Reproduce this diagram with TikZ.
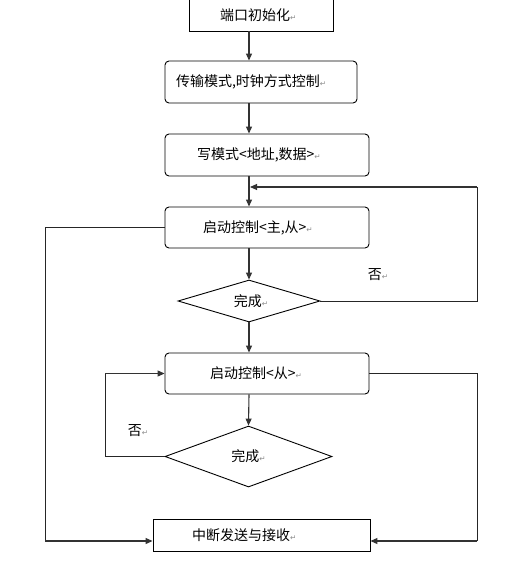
\documentclass[tikz,border=0pt]{standalone}
\usepackage{fontspec}
\newfontfamily\cjk{Noto Sans CJK SC}
\newfontfamily\symfont{DejaVu Sans}
\usetikzlibrary{arrows.meta,shapes.geometric}
\newcommand{\retmark}{{\symfont\fontsize{7.5pt}{7.5pt}\selectfont\textcolor{black!45}{↵}}}

\begin{document}
\begin{tikzpicture}[x=1pt, y=-1pt,
  every node/.style={font=\cjk\fontsize{14pt}{16pt}\selectfont},
  box/.style={draw, rectangle, line width=0.9pt, minimum height=#1, align=left},
  rbox/.style={box=#1, rounded corners=4pt},
  decision/.style={draw, diamond, line width=0.9pt, inner sep=0pt, aspect=3.4},
  flow/.style={-{Triangle[length=7pt,width=6pt]}, line width=1.1pt, draw=black!80},
  wire/.style={line width=1pt, draw=black!85}]
  \useasboundingbox (0,0) rectangle (530,562);

  % nodes
  \node[box=32pt, inner xsep=31pt, text width=82pt] (init) at (261,15) {端口初始化\retmark};
  \node[rbox=42pt, inner xsep=11pt, text width=170pt] (mode) at (261,82) {传输模式,时钟方式控制\retmark};
  \node[rbox=42pt, inner xsep=32pt, text width=140pt] (write) at (267,155) {写模式<地址,数据>\retmark};
  \node[rbox=41pt, inner xsep=38pt, text width=128pt] (start1) at (267,227.5) {启动控制<主,从>\retmark};
  \node[decision, minimum width=142pt, minimum height=42pt] (done1) at (249,301) {\hspace*{4pt}完成\retmark};
  \node[rbox=41pt, inner xsep=45pt, text width=114pt] (start2) at (267,373.5) {启动控制<从>\retmark};
  \node[decision, minimum width=167pt, minimum height=61pt] (done2) at (248.5,456.5) {完成\retmark};
  \node[box=32pt, inner xsep=39pt, text width=139pt] (irq) at (261.5,535) {中断发送与接收\retmark};

  \node (no1) at (378,275) {否\retmark};
  \node (no2) at (138,431) {否\retmark};

  % helper points
  \coordinate (col) at (249,0);
  \coordinate (join1) at (250,187);
  \coordinate (left) at (45,0);
  \coordinate (right) at (477,0);
  \coordinate (loop2) at (105,0);

  % arrows
  \draw[flow] (init.south -| col) -- (mode.north -| col);
  \draw[flow] (mode.south -| col) -- (write.north -| col);
  \draw[flow] (write.south -| col) -- (start1.north -| col);
  \draw[flow] (start1.south -| col) -- (done1.north);
  \draw[flow] (done1.south) -- (start2.north -| col);
  \draw[flow] (start2.south -| col) -- (done2.north);

  % loops
  \draw[wire] (done1.east) -- (done1.east -| right) -- (join1 -| right);
  \draw[flow] (join1 -| right) -- (join1);
  \draw[wire] (done2.west) -- (done2.west -| loop2) -- (start2.west -| loop2);
  \draw[flow] (start2.west -| loop2) -- (start2.west);

  % to interrupt
  \draw[wire] (start1.west) -- (start1.west -| left) -- ([yshift=-6pt]irq.west -| left);
  \draw[flow] ([yshift=-6pt]irq.west -| left) -- ([yshift=-6pt]irq.west);
  \draw[wire] (start2.east) -- (start2.east -| right) -- ([yshift=-6pt]irq.east -| right);
  \draw[flow] ([yshift=-6pt]irq.east -| right) -- ([yshift=-6pt]irq.east);
\end{tikzpicture}
\end{document}
